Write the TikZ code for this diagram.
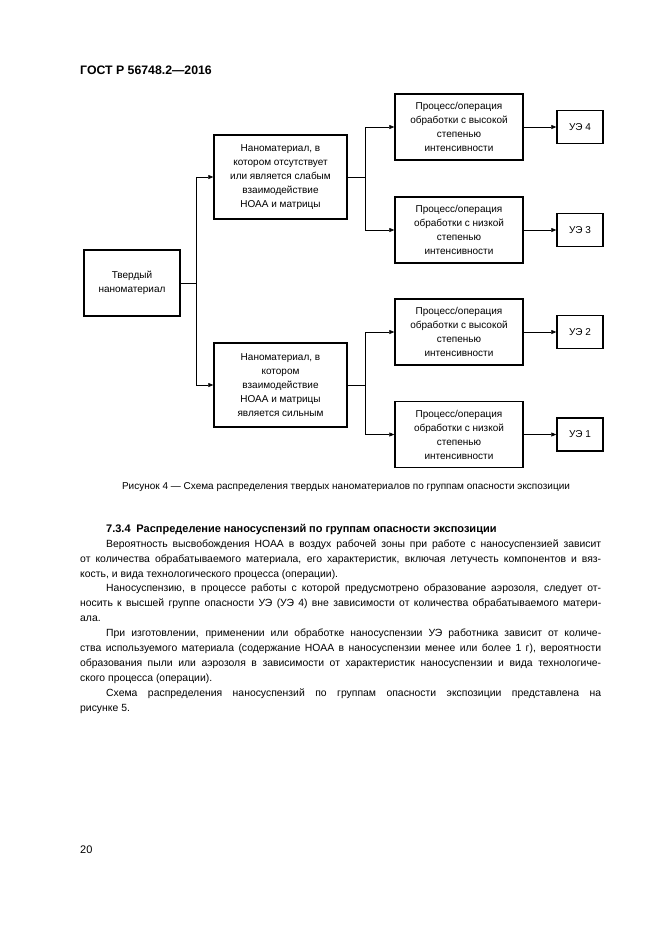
\documentclass[tikz,border=0pt]{standalone}
\usepackage{fontspec}
\setmainfont{Liberation Sans}
\usetikzlibrary{arrows.meta}
\tikzset{
  blk/.style={draw, line width=1.4pt, align=center, inner sep=0pt,
    font=\fontsize{10}{14}\selectfont},
  proc/.style={blk, minimum width=128pt, minimum height=66pt},
  ue/.style={blk, minimum width=46pt, minimum height=33pt},
  link/.style={line width=0.6pt},
  arr/.style={link, -{Triangle[length=5pt,width=4pt]}}
}
\begin{document}
\begin{tikzpicture}[x=1pt,y=-1pt]
\useasboundingbox (0,0) rectangle (661,935);
% page header
\node (hdr) [anchor=west, inner sep=0pt, font=\bfseries\fontsize{12.3}{14}\selectfont] at (80,70) {ГОСТ Р 56748.2—2016};
% scheme
\node[blk, minimum width=96pt, minimum height=66pt] (tv) at (132,283) {Твердый\\наноматериал};
\node[blk, minimum width=133pt, minimum height=84pt] (na) at (280.5,177) {Наноматериал, в\\котором отсутствует\\или является слабым\\взаимодействие\\НОАА и матрицы};
\node[blk, minimum width=133pt, minimum height=84pt] (nb) at (280.5,385) {Наноматериал, в\\котором\\взаимодействие\\НОАА и матрицы\\является сильным};
\node[proc] (pa) at (459,127) {Процесс/операция\\обработки с высокой\\степенью\\интенсивности};
\node[proc] (pb) at (459,230) {Процесс/операция\\обработки с низкой\\степенью\\интенсивности};
\node[proc] (pc) at (459,332) {Процесс/операция\\обработки с высокой\\степенью\\интенсивности};
\node[proc] (pd) at (459,434.5) {Процесс/операция\\обработки с низкой\\степенью\\интенсивности};
\node[ue] (ue4) at (580,127) {УЭ 4};
\node[ue] (ue3) at (580,230) {УЭ 3};
\node[ue] (ue2) at (580,332) {УЭ 2};
\node[ue] (ue1) at (580,434.5) {УЭ 1};
\coordinate (ja) at (196,283);
\coordinate (jb) at (365,177);
\coordinate (jc) at (365,385);
\draw[link] (tv.east) -- (ja);
\draw[arr] (ja) |- (na.west);
\draw[arr] (ja) |- (nb.west);
\draw[link] (na.east) -- (jb);
\draw[arr] (jb) |- (pa.west);
\draw[arr] (jb) |- (pb.west);
\draw[link] (nb.east) -- (jc);
\draw[arr] (jc) |- (pc.west);
\draw[arr] (jc) |- (pd.west);
\draw[arr] (pa) -- (ue4);
\draw[arr] (pb) -- (ue3);
\draw[arr] (pc) -- (ue2);
\draw[arr] (pd) -- (ue1);
% caption
\node (cap) [inner sep=0pt, font=\fontsize{10}{12}\selectfont] at (346,487) {Рисунок 4 — Схема распределения твердых наноматериалов по группам опасности экспозиции};
% text
\node (txt) [anchor=north west, inner sep=0pt, text width=521pt, align=justify, font=\fontsize{10.4}{14.9}\selectfont] at (80,524) {%
\setlength\parindent{0pt}\setlength\parskip{0pt}\tolerance=9999\hbadness=10000\emergencystretch=20pt%
\spaceskip=0.28em plus 0.5em minus 0.13em%
\hspace*{26pt}{\bfseries\fontsize{11}{14.9}\selectfont 7.3.4\ \ Распределение наносуспензий по группам опасности экспозиции}\par
\hspace*{26pt}Вероятность высвобождения НОАА в воздух рабочей зоны при работе с наносуспензией зависит\linebreak от количества обрабатываемого материала, его характеристик, включая летучесть компонентов и вяз-\linebreak кость, и вида технологического процесса (операции).\par
\hspace*{26pt}Наносуспензию, в процессе работы с которой предусмотрено образование аэрозоля, следует от-\linebreak носить к высшей группе опасности УЭ (УЭ 4) вне зависимости от количества обрабатываемого матери-\linebreak ала.\par
\hspace*{26pt}При изготовлении, применении или обработке наносуспензии УЭ работника зависит от количе-\linebreak ства используемого материала (содержание НОАА в наносуспензии менее или более 1 г), вероятности\linebreak образования пыли или аэрозоля в зависимости от характеристик наносуспензии и вида технологиче-\linebreak ского процесса (операции).\par
\hspace*{26pt}Схема распределения наносуспензий по группам опасности экспозиции представлена на\linebreak рисунке 5.\par};
% page number
\node (pgn) [anchor=west, inner sep=0pt, font=\fontsize{11}{14}\selectfont] at (80,850) {20};
\end{tikzpicture}
\end{document}
